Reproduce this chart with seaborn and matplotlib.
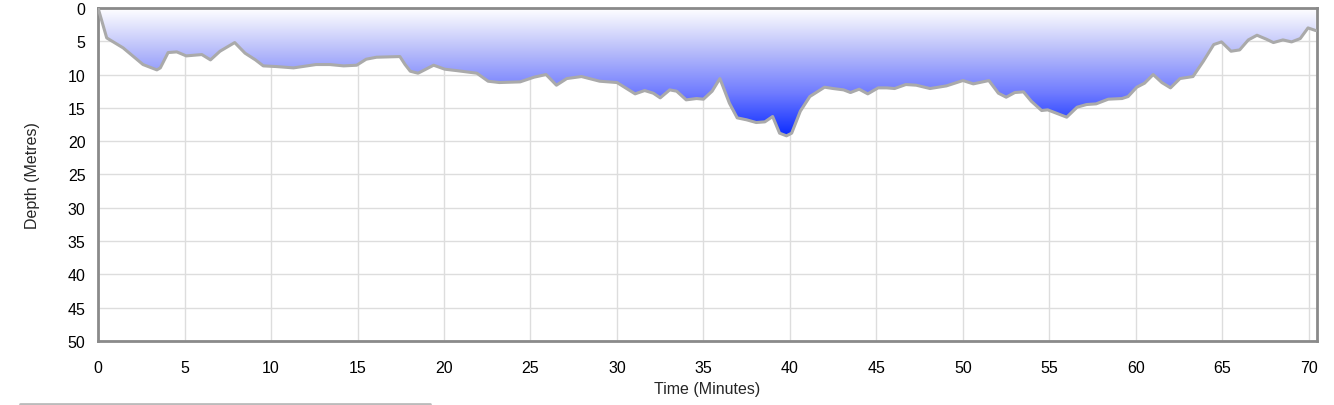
import numpy as np
import pandas as pd
import matplotlib
matplotlib.use("Agg")
import matplotlib.pyplot as plt
from matplotlib.colors import LinearSegmentedColormap
from matplotlib.lines import Line2D
import seaborn as sns

time_min = [0.0, 0.5, 1.45, 2.6, 3.4, 3.6, 4.05, 4.55, 5.1, 6.0, 6.5, 7.05, 7.9, 8.5, 9.1,
            9.55, 10.3, 11.3, 12.6, 13.4, 14.2, 14.95, 15.5, 16.1, 17.45, 17.75, 18.05, 18.5,
            19.4, 20.05, 20.7, 21.9, 22.55, 23.2, 24.4, 25.2, 25.9, 26.5, 27.1, 27.95, 29.0,
            30.0, 31.05, 31.6, 32.1, 32.5, 33.05, 33.45, 34.0, 34.6, 35.0, 35.5, 35.95, 36.5,
            36.95, 37.5, 38.05, 38.55, 39.0, 39.4, 39.8, 40.1, 40.6, 41.15, 42.0, 42.5, 43.1,
            43.5, 44.0, 44.5, 45.1, 45.6, 46.05, 46.7, 47.3, 48.1, 49.05, 50.0, 50.6, 51.5,
            52.05, 52.5, 53.0, 53.5, 53.95, 54.55, 54.9, 55.5, 56.0, 56.6, 57.15, 57.7, 58.4,
            59.2, 59.55, 60.05, 60.5, 61.0, 61.5, 62.0, 62.55, 63.3, 63.9, 64.5, 64.95, 65.5,
            66.0, 66.5, 67.0, 67.55, 67.95, 68.5, 69.0, 69.5, 69.95, 70.4]
depth_m = [0.0, 4.5, 6.0, 8.5, 9.3, 9.0, 6.7, 6.6, 7.2, 7.0, 7.8, 6.5, 5.2, 6.8, 7.8,
           8.7, 8.8, 9.0, 8.5, 8.5, 8.7, 8.6, 7.7, 7.4, 7.3, 8.5, 9.5, 9.8,
           8.6, 9.2, 9.4, 9.8, 11.0, 11.2, 11.1, 10.4, 10.0, 11.6, 10.6, 10.3, 11.0,
           11.2, 12.9, 12.4, 12.8, 13.5, 12.3, 12.5, 13.8, 13.6, 13.7, 12.5, 10.6, 14.3,
           16.5, 16.8, 17.2, 17.1, 16.3, 18.8, 19.2, 18.8, 15.5, 13.3, 11.9, 12.1, 12.3,
           12.7, 12.2, 12.9, 12.0, 12.0, 12.1, 11.5, 11.6, 12.1, 11.7, 10.9, 11.4, 10.9,
           12.8, 13.4, 12.7, 12.6, 14.0, 15.4, 15.3, 15.9, 16.4, 14.9, 14.5, 14.4, 13.7,
           13.6, 13.3, 11.9, 11.3, 10.0, 11.2, 12.0, 10.6, 10.3, 8.0, 5.5, 5.1, 6.5,
           6.3, 4.8, 4.1, 4.7, 5.2, 4.8, 5.1, 4.6, 3.0, 3.4]
x_ticks = [0, 5, 10, 15, 20, 25, 30, 35, 40, 45, 50, 55, 60, 65, 70]
y_ticks = [0, 5, 10, 15, 20, 25, 30, 35, 40, 45, 50]

df = pd.DataFrame({"Time": time_min, "Depth": depth_m})

sns.set_style("white")
plt.rcParams["font.family"] = ["Liberation Sans", "DejaVu Sans"]

fig = plt.figure(figsize=(13.34, 4.06), dpi=100)
ax = fig.add_axes([0.0735, 0.1576, 0.9135, 0.8204])

xmax = 70.45
ax.set_xlim(0, xmax)
ax.set_ylim(50, 0)

# gradient fill
cmap = LinearSegmentedColormap.from_list("g", ["#ffffff", "#b8bdfa", "#6f7bff", "#0a2bff"])
dmax = max(depth_m)
grad = np.linspace(0, 1, 256).reshape(-1, 1)
im = ax.imshow(grad, cmap=cmap, aspect="auto", extent=[0, xmax, dmax, 0],
               origin="upper", zorder=1, interpolation="bilinear")
poly = ax.fill_between(df["Time"], 0, df["Depth"], color="none", lw=0)
im.set_clip_path(poly.get_paths()[0], transform=ax.transData)

sns.lineplot(data=df, x="Time", y="Depth", ax=ax, color="#aaaaaa", linewidth=2.2, zorder=3,
             solid_joinstyle="round")

ax.set_xticks(x_ticks)
ax.set_yticks(y_ticks)
ax.grid(True, color="#dddddd", linewidth=1)
ax.set_axisbelow(True)
for s in ax.spines.values():
    s.set_color("#8a8a8a")
    s.set_linewidth(2)
ax.tick_params(axis="both", direction="out", length=7, width=1, color="#8a8a8a",
               labelsize=11.5, labelcolor="black")
ax.tick_params(axis="x", pad=7)
ax.tick_params(axis="y", pad=2)
ax.set_xlabel("Time (Minutes)", fontsize=11.5, labelpad=4)
ax.set_ylabel("Depth (Metres)", fontsize=11.5, labelpad=20)

fig.add_artist(Line2D([20/1334, 430/1334], [1 - 405/406, 1 - 405/406],
                      transform=fig.transFigure, color="#bbbbbb", linewidth=2))

fig.savefig("out.png", dpi=100)
